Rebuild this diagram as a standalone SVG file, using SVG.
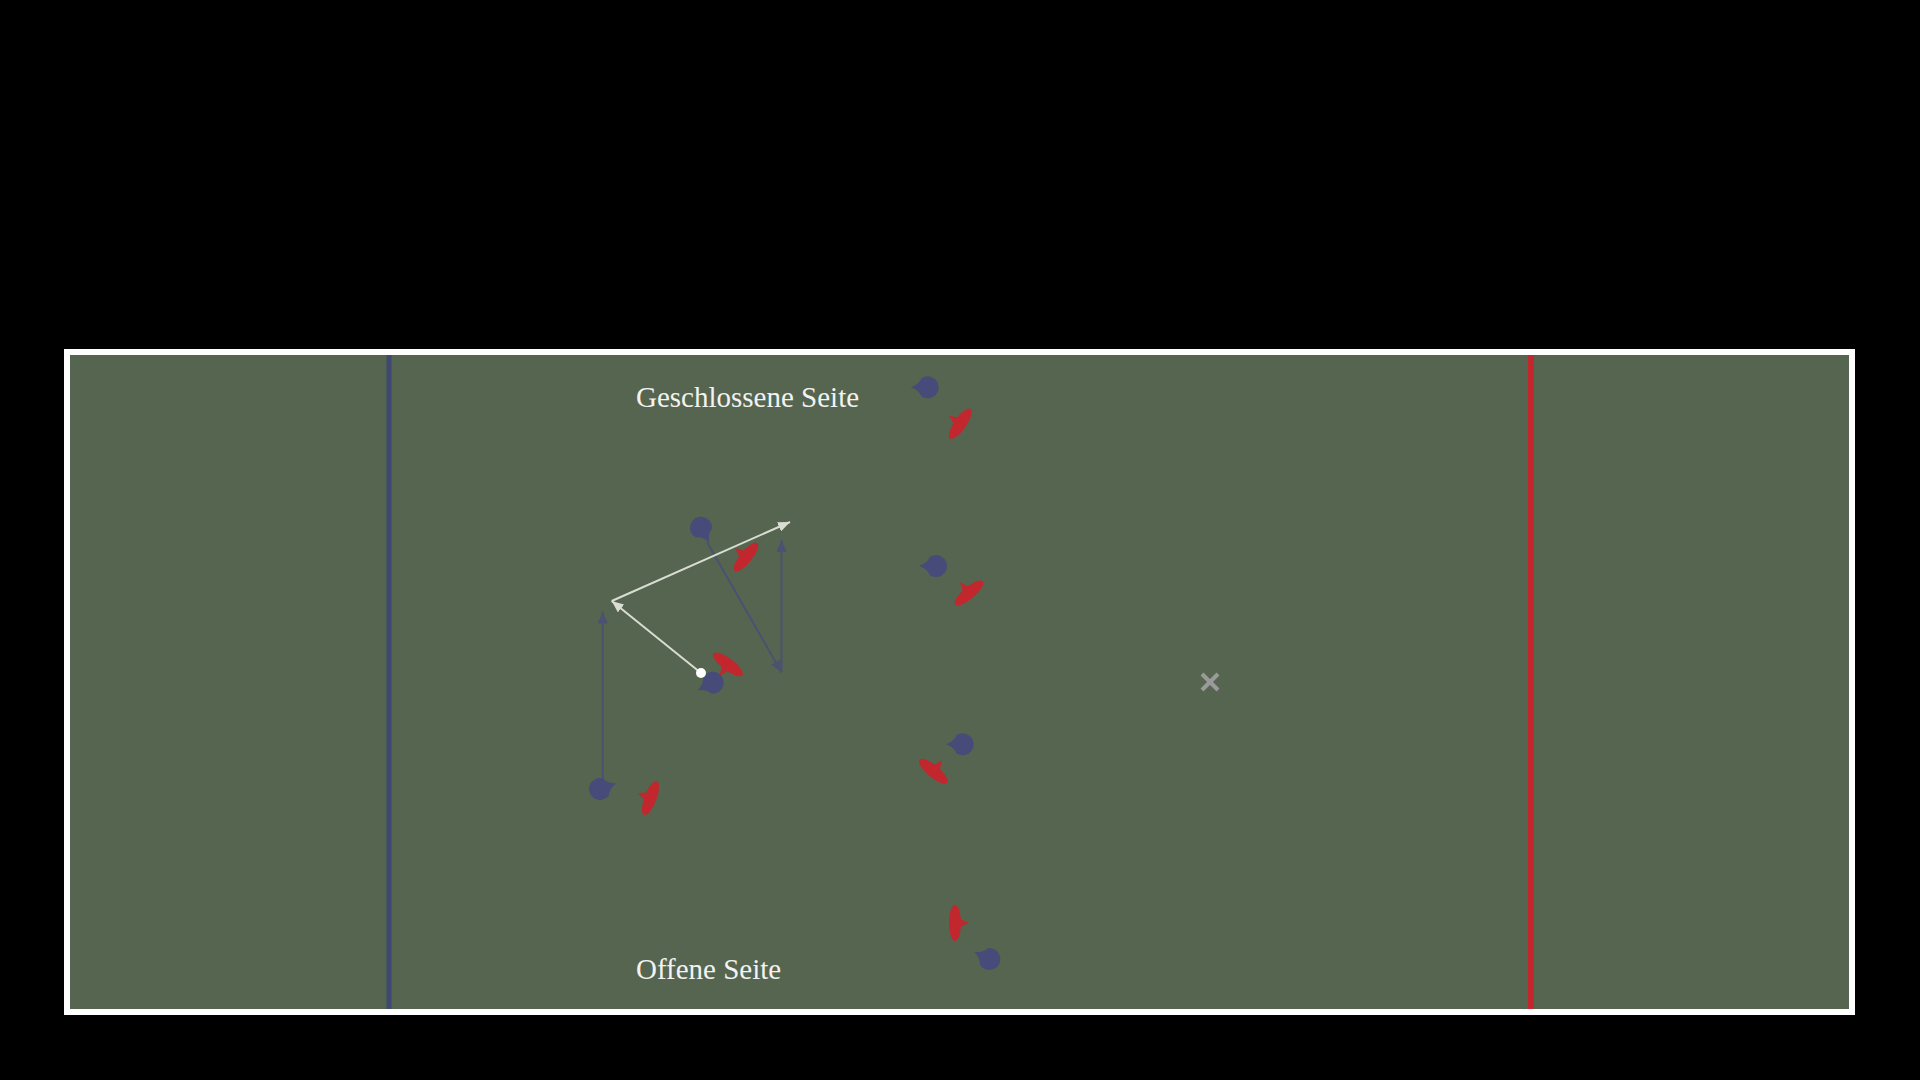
<svg xmlns="http://www.w3.org/2000/svg" width="1920" height="1080" viewBox="0 0 1920 1080">
<style>
.blue{fill:#464b79}
.red{fill:#c1272d}
.run{stroke:#4a5273;stroke-width:2;fill:none}
.pass{stroke:#d9ddd2;stroke-width:2;fill:none}
.lbl{font-family:"Liberation Serif","DejaVu Serif",serif;font-size:29px;fill:#f2f2f2}
</style>
<defs>
<marker id="ab" markerUnits="userSpaceOnUse" markerWidth="14" markerHeight="10" refX="12" refY="5" orient="auto">
<path d="M0,0 L12,5 L0,10 Z" fill="#4a5273"/>
</marker>
<marker id="aw" markerUnits="userSpaceOnUse" markerWidth="14" markerHeight="10" refX="12" refY="5" orient="auto">
<path d="M0,0 L12,5 L0,10 Z" fill="#d9ddd2"/>
</marker>
<path id="att" d="M17,0 Q9,-2.5 6,-9.2 A11,11 0 1 0 6,9.2 Q9,2.5 17,0 Z"/>
<g id="def">
<ellipse cx="0" cy="0" rx="18" ry="6"/>
<path d="M-6,0 L6,0 L0,-14 Z"/>
</g>
</defs>
<rect x="0" y="0" width="1920" height="1080" fill="#000"/>
<g id="field">
<rect x="67" y="352" width="1785" height="660" fill="#56654f" stroke="#ffffff" stroke-width="6"/>
<rect x="386.5" y="355" width="5" height="654" fill="#3f4870"/>
<rect x="1528" y="355" width="6" height="654" fill="#c1272d"/>
<g id="mark" stroke="#9a9a9a" stroke-width="4" stroke-linecap="butt">
<line x1="1202" y1="674" x2="1218" y2="690"/>
<line x1="1218" y1="674" x2="1202" y2="690"/>
</g>
<text class="lbl" x="636" y="407">Geschlossene Seite</text>
<text class="lbl" x="636" y="979">Offene Seite</text>
</g>
<g id="connectors">
<line class="run" x1="707" y1="542" x2="781.5" y2="672.5" marker-end="url(#ab)"/>
<line class="run" x1="781.5" y1="672" x2="781.5" y2="540" marker-end="url(#ab)"/>
<line class="run" x1="602.7" y1="779" x2="602.7" y2="611.5" marker-end="url(#ab)"/>
<line class="pass" x1="701" y1="673" x2="611.7" y2="601" marker-end="url(#aw)"/>
<line class="pass" x1="611.7" y1="601" x2="790" y2="522" marker-end="url(#aw)"/>
</g>
<g id="attackers" class="blue">
<use id="b1" href="#att" transform="translate(927.7,387.3) rotate(180)"/>
<use id="b2" href="#att" transform="translate(936,566) rotate(180)"/>
<use id="b3" href="#att" transform="translate(962.7,744.3) rotate(180)"/>
<use id="b4" href="#att" transform="translate(989.3,959) rotate(205)"/>
<use id="b5" href="#att" transform="translate(600,789) rotate(-19)"/>
<use id="b6" href="#att" transform="translate(701,527.7) rotate(61)"/>
<use id="b7" href="#att" transform="translate(712.7,682.7) rotate(153)"/>
</g>
<g id="defenders" class="red">
<use id="r1" href="#def" transform="translate(960.3,423.7) rotate(-55)"/>
<use id="r2" href="#def" transform="translate(746,557) rotate(-51)"/>
<use id="r3" href="#def" transform="translate(728,664.5) rotate(217)"/>
<use id="r4" href="#def" transform="translate(969,593) rotate(-40)"/>
<use id="r5" href="#def" transform="translate(933.3,771.3) rotate(40)"/>
<use id="r6" href="#def" transform="translate(650.5,798) rotate(-69)"/>
<use id="r7" href="#def" transform="translate(955,923) rotate(90)"/>
</g>
<circle id="ball" cx="701" cy="673" r="5" fill="#ffffff"/>
</svg>
